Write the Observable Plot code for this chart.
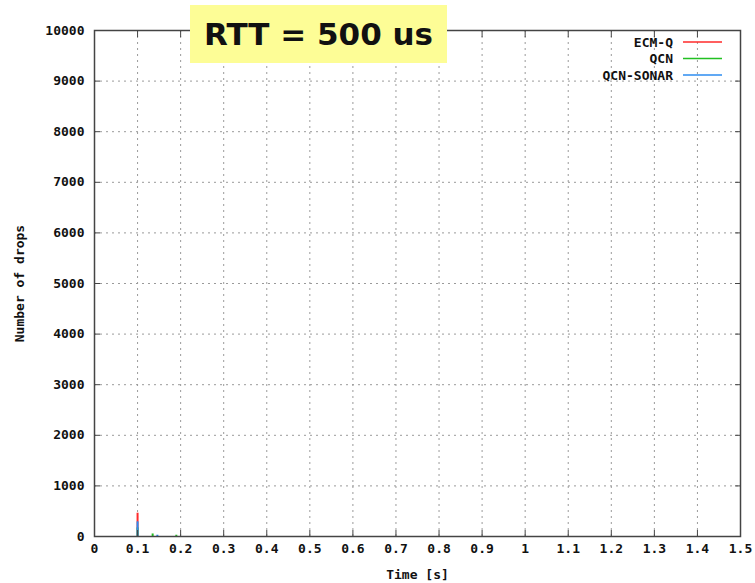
<!DOCTYPE html>
<html>
<head>
<meta charset="utf-8">
<script src="https://cdn.jsdelivr.net/npm/d3@7"></script>
<script src="https://cdn.jsdelivr.net/npm/@observablehq/plot@0.6"></script>
<style>
  html, body { margin: 0; padding: 0; background: #fff; }
  #wrap { position: relative; width: 755px; height: 583px; }
  #title {
    position: absolute; left: 190px; top: 5px; width: 257px; height: 58px;
    background: #fdfd96; display: flex; align-items: center; justify-content: center;
    font-family: "DejaVu Sans", sans-serif; font-weight: bold; font-size: 31px; color: #111;
  }
  #legend { position: absolute; left: 0; top: 0; }
</style>
</head>
<body>
<div id="wrap"></div>
<script>
// Drops per sampling interval; every other interval had no drops.
const ecmTime   = [0.1];
const ecmDrops  = [460];
const qcnTime   = [0.1, 0.135, 0.19];
const qcnDrops  = [170, 50, 25];
const sonarTime = [0.1, 0.146];
const sonarDrops = [290, 25];

const seriesNames  = ["ECM-Q", "QCN", "QCN-SONAR"];
const seriesColors = ["#ff2a2a", "#22c022", "#2d8cf0"];

const xTicks = [0, 0.1, 0.2, 0.3, 0.4, 0.5, 0.6, 0.7, 0.8, 0.9, 1, 1.1, 1.2, 1.3, 1.4, 1.5];
const yTicks = [0, 1000, 2000, 3000, 4000, 5000, 6000, 7000, 8000, 9000, 10000];

const toRows = (times, drops, name) => times.map((t, i) => ({t, drops: drops[i], name}));
const rows = [
  ...toRows(ecmTime, ecmDrops, seriesNames[0]),
  ...toRows(qcnTime, qcnDrops, seriesNames[1]),
  ...toRows(sonarTime, sonarDrops, seriesNames[2])
];

const axisFont = {fontFamily: "DejaVu Sans Mono, monospace", fontWeight: "bold", fontSize: 13};

const chart = Plot.plot({
  width: 755,
  height: 583,
  marginLeft: 94,
  marginRight: 15,
  marginTop: 30,
  marginBottom: 47,
  style: {background: "#fff", color: "#111", ...axisFont},
  x: {domain: [0, 1.5]},
  y: {domain: [0, 10000]},
  color: {domain: seriesNames, range: seriesColors},
  marks: [
    Plot.gridX(xTicks, {stroke: "#9a9a9a", strokeOpacity: 1, strokeDasharray: "2,4"}),
    Plot.gridY(yTicks, {stroke: "#9a9a9a", strokeOpacity: 1, strokeDasharray: "2,4"}),
    Plot.ruleX(rows, {x: "t", y1: 0, y2: "drops", stroke: "name", strokeWidth: 2}),
    Plot.axisX(xTicks, {tickSize: -6, tickPadding: 13, tickFormat: d => String(d), stroke: "#444",
      label: "Time [s]", labelAnchor: "center", labelArrow: "none", labelOffset: 42}),
    Plot.axisX(xTicks, {anchor: "top", tickSize: -6, tickFormat: () => "", stroke: "#444", label: null}),
    Plot.axisY(yTicks, {tickSize: -6, tickPadding: 16, tickFormat: d => String(d), stroke: "#444",
      label: "Number of drops", labelAnchor: "center", labelArrow: "none", labelOffset: 80}),
    Plot.axisY(yTicks, {anchor: "right", tickSize: -6, tickFormat: () => "", stroke: "#444", label: null}),
    Plot.frame({stroke: "#444", strokeWidth: 1.5})
  ]
});

const wrap = document.getElementById("wrap");
wrap.appendChild(chart);

// Legend, top right inside the frame
const legend = d3.create("svg")
  .attr("id", "legend")
  .attr("width", 755).attr("height", 100)
  .style("pointer-events", "none");
seriesNames.forEach((name, i) => {
  const y = 42 + i * 16.5;
  legend.append("text")
    .attr("x", 673).attr("y", y).attr("dy", "0.35em")
    .attr("text-anchor", "end")
    .attr("font-family", "DejaVu Sans Mono, monospace")
    .attr("font-weight", "bold").attr("font-size", 13)
    .attr("fill", "#111")
    .text(name);
  legend.append("line")
    .attr("x1", 683).attr("x2", 722).attr("y1", y).attr("y2", y)
    .attr("stroke", seriesColors[i]).attr("stroke-width", 1.5);
});
wrap.appendChild(legend.node());

const title = document.createElement("div");
title.id = "title";
title.textContent = "RTT = 500 us";
wrap.appendChild(title);
</script>
</body>
</html>
